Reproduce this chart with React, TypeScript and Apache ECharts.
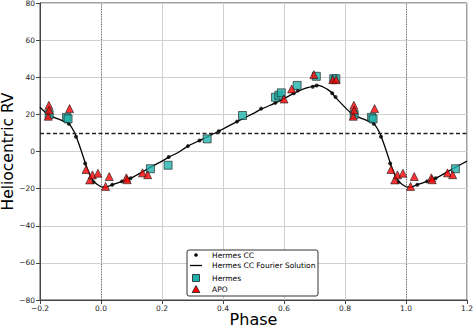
import React, { useEffect, useRef } from "react";
import * as echarts from "echarts";

// Phase range shown (data folded with period 1 into this window)
const phaseMin = -0.2;
const phaseMax = 1.2;
const xTicks = [-0.2, 0, 0.2, 0.4, 0.6, 0.8, 1.0, 1.2];
const yTicks = [-80, -60, -40, -20, 0, 20, 40, 60, 80];
const systemicVelocity = 9.8;
const phaseMarkers = [0, 1];

// Hermes CC (black dots): [phase, RV]
const hermesCC: [number, number][] = [
  [0.037, -17.9], [0.069, -16.1], [0.097, -14.4], [0.222, -3.0], [0.285, 2.9],
  [0.323, 5.9], [0.386, 10.9], [0.446, 16.1], [0.525, 23.1], [0.572, 26.2],
  [0.632, 31.4], [0.645, 32.8], [0.694, 34.9], [0.707, 35.6], [0.758, 31.4],
  [0.769, 29.4], [0.894, 14.9], [0.918, 7.9], [0.948, -6.5], [0.975, -16.5],
];

// Hermes CC Fourier solution
const fourier: [number, number][] = [
  [0.0, -18.9], [0.015, -19.2], [0.037, -17.9], [0.069, -16.1], [0.097, -14.4],
  [0.13, -11.5], [0.16, -8.7], [0.2, -5.2], [0.222, -3.0], [0.25, -0.8],
  [0.285, 2.9], [0.323, 5.9], [0.355, 8.4], [0.386, 10.9], [0.446, 16.1],
  [0.5, 20.5], [0.525, 22.8], [0.572, 26.2], [0.6, 28.5], [0.632, 31.3],
  [0.654, 33.0], [0.68, 34.5], [0.696, 35.1], [0.714, 35.6], [0.73, 34.6],
  [0.745, 33.2], [0.758, 31.5], [0.767, 29.4], [0.79, 25.5], [0.8, 23.8],
  [0.818, 21.0], [0.835, 19.3], [0.854, 17.8], [0.875, 16.5], [0.889, 15.6],
  [0.897, 14.6], [0.911, 10.9], [0.919, 7.9], [0.935, 0.5], [0.949, -6.5],
  [0.963, -12.5], [0.976, -16.0], [0.988, -17.8],
];

// Hermes (teal squares)
const hermes: [number, number][] = [
  [0.162, -9.3], [0.22, -7.4], [0.348, 6.8], [0.464, 19.4], [0.572, 29.2],
  [0.583, 30.3], [0.591, 31.6], [0.643, 35.6], [0.706, 40.5], [0.763, 39.2],
  [0.77, 39.2], [0.83, 19.9], [0.887, 18.4], [0.892, 17.6],
];

// APO (red triangles)
const apo: [number, number][] = [
  [0.015, -18.8], [0.027, -13.5], [0.083, -14.2], [0.086, -15.2], [0.136, -11.5],
  [0.153, -12.5], [0.6, 28.3], [0.625, 33.7], [0.698, 41.4], [0.76, 38.7],
  [0.771, 38.7], [0.827, 19.0], [0.83, 22.3], [0.829, 24.9], [0.897, 23.1],
  [0.951, -9.7], [0.963, -15.3], [0.972, -12.6], [0.99, -11.7],
];

function fold(points: [number, number][]): [number, number][] {
  const out: [number, number][] = [];
  for (const [p, v] of points) {
    for (const shift of [-1, 0, 1]) {
      const q = +(p + shift).toFixed(4);
      if (q >= phaseMin - 1e-9 && q <= phaseMax + 1e-9) out.push([q, v]);
    }
  }
  return out.sort((a, b) => a[0] - b[0]);
}

const fmt = (v: number, d: number) => {
  const s = (Math.abs(v) < 1e-9 ? 0 : v).toFixed(d);
  return s.startsWith("-") ? "\u2212" + s.slice(1) : s;
};

const FONT = "DejaVu Sans";

export default function App() {
  const ref = useRef<HTMLDivElement>(null);
  useEffect(() => {
    if (!ref.current) return;
    const chart = echarts.init(ref.current, undefined, { renderer: "svg" });
    const lx = 187, ly = 250;
    chart.setOption({
      animation: false,
      backgroundColor: "#fff",
      grid: {
        left: 40, right: 6, top: 3, bottom: 28,
        outerBoundsMode: "none", containLabel: false,
        show: true, borderColor: "#444", borderWidth: 1, backgroundColor: "transparent",
      },
      xAxis: {
        type: "value", min: phaseMin, max: phaseMax, interval: 0.2,
        name: "Phase", nameLocation: "middle", nameGap: 11, nameMoveOverlap: false,
        nameTextStyle: { fontSize: 16, fontFamily: FONT, color: "#000" },
        axisLine: { show: true, onZero: false, lineStyle: { color: "#444", width: 1 } },
        axisTick: { show: true, length: 4, lineStyle: { color: "#444" } },
        axisLabel: {
          fontSize: 7.5, fontFamily: FONT, color: "#222", margin: 4,
          formatter: (v: number) => fmt(v, 1),
        },
        splitLine: { show: true, lineStyle: { color: "#d0d0d0", width: 1 } },
      },
      yAxis: {
        type: "value", min: yTicks[0], max: yTicks[yTicks.length - 1], interval: 20,
        name: "Heliocentric RV", nameLocation: "middle", nameGap: 24, nameMoveOverlap: false,
        nameTextStyle: { fontSize: 15.5, fontFamily: FONT, color: "#000" },
        axisLine: { show: true, onZero: false, lineStyle: { color: "#444", width: 1 } },
        axisTick: { show: true, length: 4, lineStyle: { color: "#444" } },
        axisLabel: {
          fontSize: 7.5, fontFamily: FONT, color: "#222", margin: 5,
          formatter: (v: number) => fmt(v, 0),
        },
        splitLine: { show: true, lineStyle: { color: "#d0d0d0", width: 1 } },
      },
      series: [
        {
          name: "Hermes CC Fourier Solution", type: "line", data: fold(fourier),
          showSymbol: false, symbol: "none", smooth: 0.15,
          lineStyle: { color: "#000", width: 1.3 }, z: 2,
          markLine: {
            silent: true, symbol: "none", label: { show: false },
            data: [
              { yAxis: systemicVelocity, lineStyle: { color: "#222", type: [4, 2.5], width: 1.3 } },
              ...phaseMarkers.map((p) => ({
                xAxis: p, lineStyle: { color: "#666", type: [1, 1.5], width: 1 },
              })),
            ],
          },
        },
        {
          name: "Hermes CC", type: "scatter", data: fold(hermesCC), symbol: "circle",
          symbolSize: 4, itemStyle: { color: "#000" }, z: 3,
        },
        {
          name: "Hermes", type: "scatter", data: fold(hermes), symbol: "rect",
          symbolSize: 8, itemStyle: { color: "#20b2aa", borderColor: "#1a1a1a", borderWidth: 0.8 }, z: 4,
        },
        {
          name: "APO", type: "scatter", data: fold(apo), symbol: "triangle",
          symbolSize: 8, itemStyle: { color: "#ff0000", borderColor: "#1a1a1a", borderWidth: 0.8 }, z: 5,
        },
      ],
      graphic: [
        {
          type: "rect", z: 100,
          shape: { x: lx, y: ly, width: 131, height: 46, r: 2 },
          style: { fill: "#fff", stroke: "#333", lineWidth: 1 },
        },
        { type: "circle", z: 101, shape: { cx: lx + 9, cy: ly + 5, r: 1.8 }, style: { fill: "#000" } },
        {
          type: "line", z: 101, shape: { x1: lx + 3, y1: ly + 15.5, x2: lx + 15, y2: ly + 15.5 },
          style: { stroke: "#000", lineWidth: 1.3 },
        },
        {
          type: "rect", z: 101, shape: { x: lx + 5.5, y: ly + 24.5, width: 7, height: 7 },
          style: { fill: "#20b2aa", stroke: "#1a1a1a", lineWidth: 0.8 },
        },
        {
          type: "polygon", z: 101,
          shape: { points: [[lx + 9, ly + 35.5], [lx + 12.8, ly + 42.5], [lx + 5.2, ly + 42.5]] },
          style: { fill: "#ff0000", stroke: "#1a1a1a", lineWidth: 0.8 },
        },
        ...["Hermes CC", "Hermes CC Fourier Solution", "Hermes", "APO"].map((t, i) => ({
          type: "text", z: 101,
          x: lx + 25, y: ly + [5, 15.7, 28, 39.3][i],
          style: { text: t, fontSize: 7.5, fontFamily: FONT, fill: "#000", verticalAlign: "middle", align: "left" },
        })),
      ],
    });
    return () => chart.dispose();
  }, []);
  return (
    <div
      ref={ref}
      style={{ position: "fixed", left: 0, top: 0, width: 473, height: 328 }}
    />
  );
}
